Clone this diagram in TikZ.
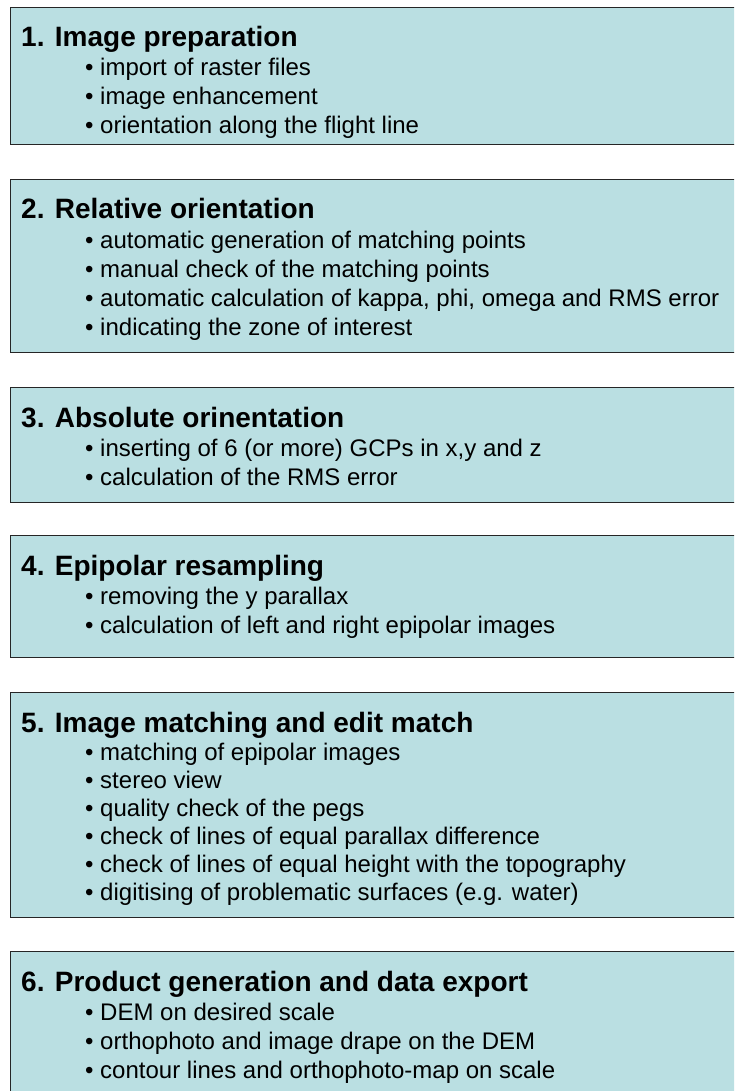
\documentclass[tikz,border=0pt]{standalone}
\usepackage{fontspec}
\setmainfont{Liberation Sans}
\usetikzlibrary{positioning}
\definecolor{stagefill}{RGB}{186,223,226}

\begin{document}
\begin{tikzpicture}[x=1pt,y=-1pt,
    stage/.style={draw=black!85,fill=stagefill,line width=1.3pt,anchor=north west,minimum width=760pt,inner sep=0pt},
    head/.style={anchor=base west,inner sep=0pt,font=\fontsize{28}{34}\selectfont\bfseries},
    item/.style={anchor=base west,inner sep=0pt,font=\fontsize{24}{29}\selectfont}]

    \useasboundingbox (0,0) rectangle (734,1091);
    \clip (0,0) rectangle (734,1091);

    % the six stages
    \node[stage,minimum height=137pt] (s1) at (9.5,7) {};
    \node[stage,minimum height=173pt] (s2) at (9.5,179) {};
    \node[stage,minimum height=115pt] (s3) at (9.5,387) {};
    \node[stage,minimum height=122pt] (s4) at (9.5,535) {};
    \node[stage,minimum height=225pt] (s5) at (9.5,692) {};
    \node[stage,minimum height=170pt] (s6) at (9.5,951) {};

    % headings
    \node[head] (h1) at (21,47) {1. Image preparation};
    \node[head] (h2) at (21,219) {2. Relative orientation};
    \node[head] (h3) at (21,427) {3. Absolute orinentation};
    \node[head] (h4) at (21,575) {4. Epipolar resampling};
    \node[head] (h5) at (21,732) {5. Image matching and edit match};
    \node[head] (h6) at (21,991) {6. Product generation and data export};

    % bullet lines
    \foreach \t [count=\i] in {import of raster files, image enhancement,
        orientation along the flight line}
        \node[item] (i1-\i) at (85,{47+29*\i}) {• \t};
    \foreach \t [count=\i] in {automatic generation of matching points,
        manual check of the matching points,
        {automatic calculation of kappa, phi, omega and RMS error},
        indicating the zone of interest}
        \node[item] (i2-\i) at (85,{219+29*\i}) {• \t};
    \foreach \t [count=\i] in {{inserting of 6 (or more) GCPs in x,y and z},
        calculation of the RMS error}
        \node[item] (i3-\i) at (85,{427+29*\i}) {• \t};
    \foreach \t [count=\i] in {removing the y parallax,
        calculation of left and right epipolar images}
        \node[item] (i4-\i) at (85,{575+29*\i}) {• \t};
    \foreach \t [count=\i] in {matching of epipolar images, stereo view,
        quality check of the pegs,
        check of lines of equal parallax difference,
        check of lines of equal height with the topography,
        digitising of problematic surfaces (e.g. water)}
        \node[item] (i5-\i) at (85,{732+28*\i}) {• \t};
    \foreach \t [count=\i] in {DEM on desired scale,
        orthophoto and image drape on the DEM,
        contour lines and orthophoto-map on scale}
        \node[item] (i6-\i) at (85,{991+29*\i}) {• \t};
\end{tikzpicture}
\end{document}
